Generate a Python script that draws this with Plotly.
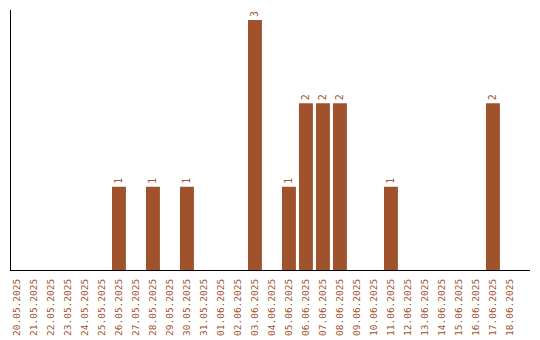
import plotly.graph_objects as go

dates = ["20.05.2025","21.05.2025","22.05.2025","23.05.2025","24.05.2025","25.05.2025",
         "26.05.2025","27.05.2025","28.05.2025","29.05.2025","30.05.2025","31.05.2025",
         "01.06.2025","02.06.2025","03.06.2025","04.06.2025","05.06.2025","06.06.2025",
         "07.06.2025","08.06.2025","09.06.2025","10.06.2025","11.06.2025","12.06.2025",
         "13.06.2025","14.06.2025","15.06.2025","16.06.2025","17.06.2025","18.06.2025"]
counts = [0,0,0,0,0,0,1,0,1,0,1,0,0,0,3,0,1,2,2,2,0,0,1,0,0,0,0,0,2,0]
labels = [str(c) if c else "" for c in counts]

color = "#A0522D"
font = "DejaVu Sans Mono"

fig = go.Figure(go.Bar(
    x=dates, y=counts, marker_color=color, marker_line_width=0,
    text=labels, textposition="outside", textangle=-90,
    textfont=dict(family=font, size=10, color=color), cliponaxis=False,
))
fig.update_layout(
    width=540, height=340, margin=dict(l=11, r=10, t=10, b=70, autoexpand=False),
    paper_bgcolor="white", plot_bgcolor="white", bargap=0.18,
    showlegend=False,
)
fig.update_xaxes(type="category", range=[-0.35, 30.18], tickangle=-90,
                 tickfont=dict(family=font, size=9.5, color=color),
                 ticklabelstandoff=4, automargin=False,
                 showline=True, linecolor="black", linewidth=1, ticks="",
                 showgrid=False)
fig.update_yaxes(range=[0, 3.12], showticklabels=False, showgrid=False,
                 zeroline=False, showline=True, linecolor="black", linewidth=1, ticks="",
                 automargin=False)
fig.write_html("out.html")
